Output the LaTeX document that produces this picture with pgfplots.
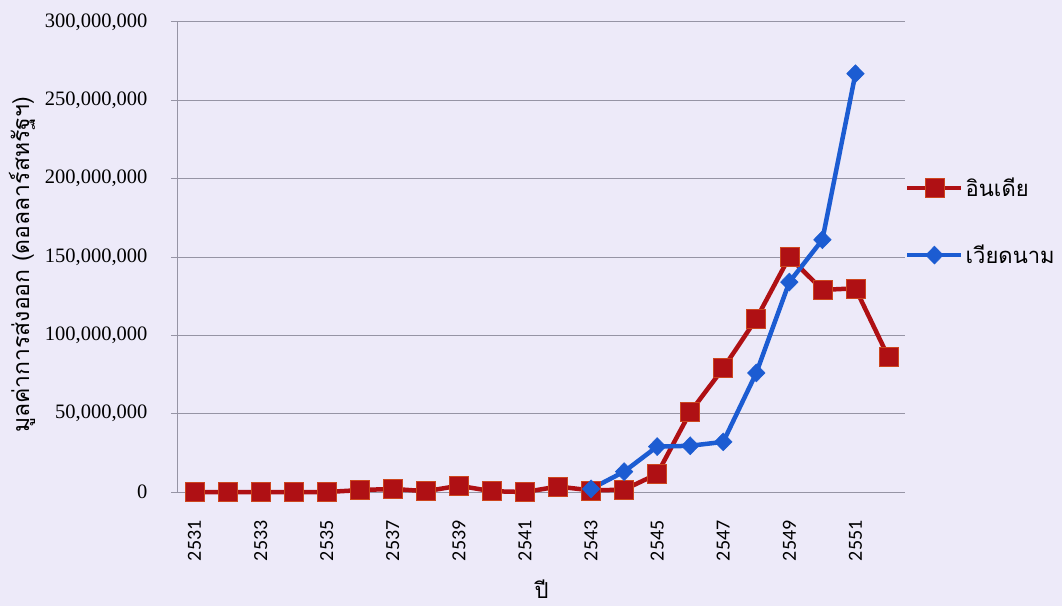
\documentclass[border=0pt]{standalone}
\usepackage{fontspec}
\usepackage{pgfplots}
\pgfplotsset{compat=1.18}
\usetikzlibrary{backgrounds}
\setmainfont{Liberation Serif}
\newfontfamily\thaifont[Script=Thai]{Loma}
\newfontfamily\calfont{Carlito}
\definecolor{bgc}{RGB}{237,234,249}
\definecolor{indred}{RGB}{175,16,20}
\definecolor{indedge}{RGB}{205,70,30}
\definecolor{vnblue}{RGB}{28,92,210}
\definecolor{gridc}{RGB}{150,148,165}
\begin{document}
\begin{tikzpicture}[show background rectangle, background rectangle/.style={fill=bgc,draw=none}, inner frame sep=0pt]
\begin{axis}[
  scale only axis, width=727pt, height=470pt,
  xmin=2530.5, xmax=2552.5, ymin=0, ymax=300000000,
  axis x line*=bottom, axis y line*=left,
  x axis line style={draw=none, -},
  y axis line style={draw=gridc, line width=1pt, -},
  clip=false,
  ymajorgrids, major grid style={gridc, line width=1pt},
  ytick={0,50000000,100000000,150000000,200000000,250000000,300000000},
  yticklabels={{0},{50,000,000},{100,000,000},{150,000,000},{200,000,000},{250,000,000},{300,000,000}},
  scaled y ticks=false,
  tick align=outside,
  major tick length=7pt,
  ytick style={gridc, line width=1pt},
  yticklabel style={font=\fontsize{20.5}{20}\selectfont, anchor=east, xshift=-20pt},
  xtick={2531,2533,2535,2537,2539,2541,2543,2545,2547,2549,2551},
  xticklabels={2531,2533,2535,2537,2539,2541,2543,2545,2547,2549,2551},
  xtick style={draw=none},
  xticklabel style={font=\calfont\fontsize{20}{20}\selectfont, yshift=-18pt, rotate=90, anchor=east},
  xlabel={\thaifont ปี},
  xlabel style={at={(axis description cs:0.5,-0.206)}, anchor=center, font=\fontsize{22}{22}\selectfont},
  ylabel={\thaifont มูลค่าการส่งออก (ดอลลาร์สหรัฐฯ)},
  ylabel style={at={(axis description cs:-0.2146,0.483)}, anchor=center, rotate=0, font=\fontsize{23}{23}\selectfont},
  legend style={at={(1,0.5755)}, anchor=west, draw=none, fill=none, font=\thaifont\fontsize{22}{26}\selectfont, row sep=43pt, inner sep=0pt},
  legend cell align=left,
  legend image code/.code={\draw[mark repeat=2,mark phase=2] plot coordinates {(0pt,0pt)(27pt,0pt)(54pt,0pt)};},
]
\addplot[indred, line width=4.5pt, mark=square*, mark size=9.5pt, mark options={fill=indred, draw=indedge, line width=0.6pt}] coordinates {
(2531,0) (2532,0) (2533,0) (2534,0) (2535,0) (2536,1200000) (2537,2000000) (2538,500000)
(2539,4000000) (2540,500000) (2541,0) (2542,3500000) (2543,1000000) (2544,1500000)
(2545,11500000) (2546,51000000) (2547,79000000) (2548,110500000) (2549,150000000)
(2550,129000000) (2551,130000000) (2552,86000000)};
\addlegendentry{อินเดีย}
\addplot[vnblue, line width=4.5pt, mark=diamond*, mark size=9pt, mark options={fill=vnblue, draw=vnblue, line width=0.5pt, xscale=1.3}] coordinates {
(2543,2000000) (2544,13000000) (2545,29000000) (2546,29500000) (2547,32000000)
(2548,76000000) (2549,134000000) (2550,161000000) (2551,267000000)};
\addlegendentry{เวียดนาม}
\end{axis}
\pgfresetboundingbox
\path ([xshift=-178pt,yshift=-114pt]current axis.south west) rectangle ++(1062pt,606pt);
\end{tikzpicture}
\end{document}
